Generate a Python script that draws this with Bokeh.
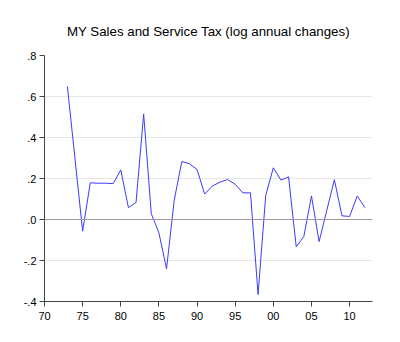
from bokeh.plotting import figure
from bokeh.models import Range1d, FixedTicker, Span
from bokeh.embed import file_html
from bokeh.resources import INLINE

years = list(range(1973, 2013))
values = [0.649, 0.296, -0.057, 0.179, 0.177, 0.177, 0.175, 0.242, 0.058, 0.083,
          0.515, 0.028, -0.065, -0.241, 0.093, 0.283, 0.272, 0.244, 0.124, 0.163,
          0.182, 0.195, 0.172, 0.130, 0.130, -0.366, 0.117, 0.252, 0.192, 0.208,
          -0.133, -0.083, 0.115, -0.108, 0.043, 0.194, 0.018, 0.015, 0.115, 0.058]
x_ticks = [1970, 1975, 1980, 1985, 1990, 1995, 2000, 2005, 2010]
x_labels = ["70", "75", "80", "85", "90", "95", "00", "05", "10"]
y_ticks = [-0.4, -0.2, 0.0, 0.2, 0.4, 0.6, 0.8]
y_labels = ["-.4", "-.2", ".0", ".2", ".4", ".6", ".8"]
title = "MY Sales and Service Tax (log annual changes)"

p = figure(width=400, height=342, output_backend="svg", toolbar_location=None,
           x_range=Range1d(1970, 2013), y_range=Range1d(-0.4, 0.8),
           min_border_left=44, min_border_right=28, min_border_top=55,
           min_border_bottom=41, title=title)
p.outline_line_color = None
p.background_fill_color = "white"
p.border_fill_color = "white"

p.title.align = "center"
p.title.text_font = "Liberation Sans"
p.title.text_font_size = "13.3px"
p.title.text_font_style = "normal"
p.title.text_color = "black"
p.title.offset = 0
p.title.standoff = 34

p.xgrid.visible = False
p.ygrid.ticker = FixedTicker(ticks=y_ticks)
p.ygrid.grid_line_color = "#e6e6e6"
p.ygrid.grid_line_width = 1

for ax in (p.xaxis[0], p.yaxis[0]):
    ax.axis_line_color = "#444444"
    ax.major_tick_line_color = "#444444"
    ax.major_tick_in = 0
    ax.major_tick_out = 5
    ax.minor_tick_line_color = None
    ax.major_label_text_font = "Liberation Sans"
    ax.major_label_text_font_size = "11px"
    ax.major_label_text_color = "black"

p.xaxis.ticker = FixedTicker(ticks=x_ticks)
p.xaxis.major_label_overrides = {t: l for t, l in zip(x_ticks, x_labels)}
p.xaxis.major_label_standoff = 5
p.yaxis.ticker = FixedTicker(ticks=y_ticks)
p.yaxis.major_label_overrides = {t: l for t, l in zip(y_ticks, y_labels)}
p.yaxis.major_label_standoff = 3

p.add_layout(Span(location=0, dimension="width", line_color="#999999", line_width=1))

p.line(years, values, line_color="#3b3bff", line_width=1)

open("out.html", "w").write(file_html(p, INLINE))
